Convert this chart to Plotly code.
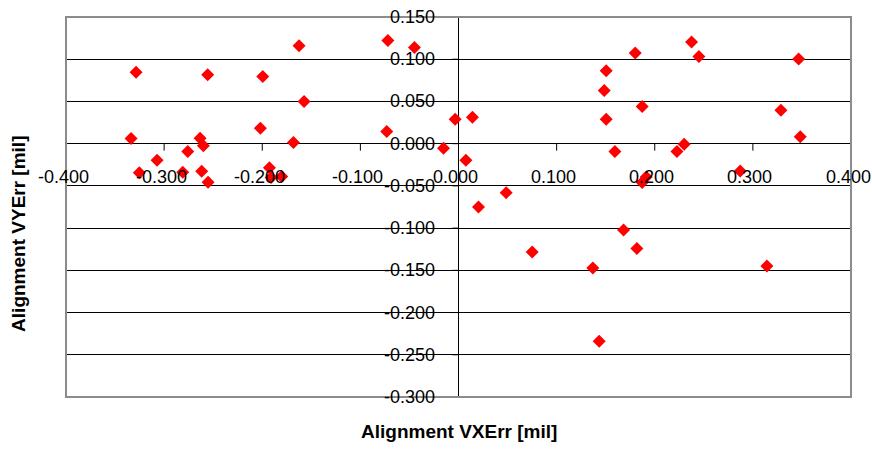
import plotly.graph_objects as go

vx_err = [-0.3286, -0.2556, -0.1995, -0.1625, -0.1574, -0.0720, -0.0449,
          -0.3337, -0.2634, -0.2600, -0.2759, -0.3072, -0.3253, -0.2810,
          -0.2617, -0.2552, -0.2019, -0.1682, -0.1927, -0.1910, -0.1801,
          -0.0731, -0.0153, -0.0034,
          0.0142, 0.0075, 0.0204, 0.0486, 0.1505, 0.1485, 0.1505, 0.1594,
          0.1801, 0.1872, 0.1872, 0.1913, 0.2375, 0.2450, 0.2226, 0.2300,
          0.2871, 0.3286, 0.3466, 0.3483,
          0.0751, 0.1369, 0.1682, 0.1818, 0.3143, 0.1434]
vy_err = [0.0846, 0.0816, 0.0796, 0.1160, 0.0500, 0.1223, 0.1140,
          0.0060, 0.0065, -0.0026, -0.0094, -0.0196, -0.0343, -0.0338,
          -0.0326, -0.0457, 0.0184, 0.0013, -0.0284, -0.0400, -0.0390,
          0.0144, -0.0054, 0.0290,
          0.0314, -0.0196, -0.0750, -0.0580, 0.0864, 0.0630, 0.0290, -0.0094,
          0.1073, 0.0440, -0.0459, -0.0394, 0.1204, 0.1033, -0.0094, -0.0006,
          -0.0323, 0.0397, 0.1002, 0.0081,
          -0.1283, -0.1473, -0.1023, -0.1240, -0.1450, -0.2340]

x_ticks = [-0.4, -0.3, -0.2, -0.1, 0.0, 0.1, 0.2, 0.3, 0.4]
y_ticks = [0.15, 0.10, 0.05, 0.0, -0.05, -0.10, -0.15, -0.20, -0.25, -0.30]
x_title = "Alignment VXErr [mil]"
y_title = "Alignment VYErr [mil]"

FONT = "Liberation Sans, Arial, sans-serif"

fig = go.Figure()
fig.add_trace(go.Scatter(
    x=vx_err, y=vy_err, mode="markers",
    marker=dict(symbol="diamond", size=10, color="#ff0000", line=dict(width=0)),
    showlegend=False, cliponaxis=False,
))

annotations = []
shapes = []
for v in x_ticks:
    annotations.append(dict(x=v, y=0, xref="x", yref="y", text=f"{v:.3f}",
                            showarrow=False, xanchor="center", yanchor="middle",
                            yshift=-33, xshift=-3,
                            font=dict(family=FONT, size=18, color="black")))
    shapes.append(dict(type="line", xref="x", yref="y", x0=v, x1=v,
                       ysizemode="pixel", yanchor=0, y0=0, y1=-7,
                       line=dict(color="black", width=1)))
for v in y_ticks:
    annotations.append(dict(x=0, y=v, xref="x", yref="y", text=f"{v:.3f}",
                            showarrow=False, xanchor="right", yanchor="middle",
                            xshift=-22,
                            font=dict(family=FONT, size=18, color="black")))
    shapes.append(dict(type="line", xref="x", yref="y", y0=v, y1=v,
                       xsizemode="pixel", xanchor=0, x0=-6, x1=0,
                       line=dict(color="black", width=1)))

annotations.append(dict(x=0.5, y=-0.092, xref="paper", yref="paper", text=f"<b>{x_title}</b>",
                        showarrow=False, xanchor="center", yanchor="middle",
                        font=dict(family=FONT, size=19, color="black")))
annotations.append(dict(x=-0.06, y=0.429, xref="paper", yref="paper", text=f"<b>{y_title}</b>",
                        showarrow=False, xanchor="center", yanchor="middle", textangle=-90,
                        font=dict(family=FONT, size=19, color="black")))

shapes.append(dict(type="rect", xref="paper", yref="paper", x0=0, x1=1, y0=0, y1=1,
                   line=dict(color="#8c8c8c", width=2), layer="above"))

fig.update_layout(
    width=872, height=449,
    margin=dict(l=66, r=21, t=17, b=52),
    paper_bgcolor="white", plot_bgcolor="white",
    xaxis=dict(range=[-0.4, 0.4], showgrid=False, showticklabels=False, ticks="",
               zeroline=True, zerolinecolor="black", zerolinewidth=1, showline=False),
    yaxis=dict(range=[-0.3, 0.15], tickvals=y_ticks, showgrid=True, gridcolor="black",
               gridwidth=1, showticklabels=False, ticks="",
               zeroline=True, zerolinecolor="black", zerolinewidth=1, showline=False),
    annotations=annotations, shapes=shapes,
)

fig.write_html("out.html")
